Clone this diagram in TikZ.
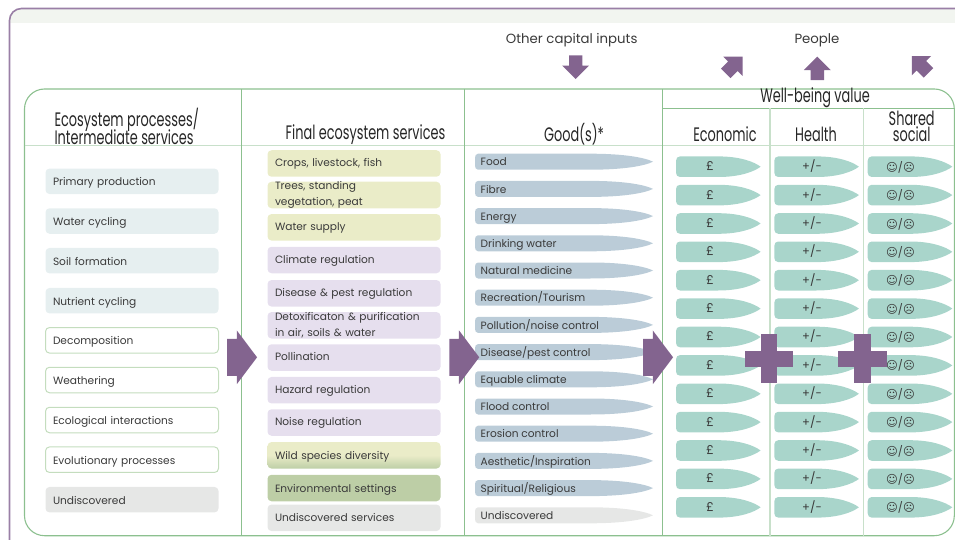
\documentclass[tikz,border=0pt]{standalone}
\usepackage{fontspec}
\setmainfont{Poppins}
\newfontfamily\headfont[FakeStretch=0.66]{Poppins}
\newfontfamily\symfont{DejaVu Sans}
\usetikzlibrary{shapes.arrows}

\definecolor{framecol}{HTML}{9A7FA6}
\definecolor{bandcol}{HTML}{F2F5F0}
\definecolor{tablecol}{HTML}{8CC08F}
\definecolor{rulecol}{HTML}{C8E0CA}
\definecolor{inkcol}{HTML}{3A3A3A}
\definecolor{procblue}{HTML}{E6EFF0}
\definecolor{procline}{HTML}{C4DDBE}
\definecolor{undgrey}{HTML}{E6E7E6}
\definecolor{servyellow}{HTML}{EAECC8}
\definecolor{servpurple}{HTML}{E6DFEE}
\definecolor{servgreen}{HTML}{BDCEA6}
\definecolor{goodblue}{HTML}{BBCCD8}
\definecolor{valuegreen}{HTML}{A9D5CB}
\definecolor{arrowcol}{HTML}{83648F}

\newcommand{\tightlines}{\lineskiplimit -10pt\relax}

\tikzset{
  headtext/.style={text=black!85,inner sep=0pt,align=left,font=\headfont\fontsize{19.5}{18}\selectfont\tightlines},
  toptext/.style={text=inkcol,inner sep=0pt,font=\fontsize{13.3}{14}\selectfont},
  boxtext/.style={text=inkcol,rounded corners=4pt,minimum height=25.5pt,inner sep=0pt,inner xsep=7.5pt,
    text width=158pt,align=left,font=\fontsize{10.6}{15.3}\selectfont},
  leftbox/.style={boxtext,text height=10.8pt,text depth=2pt},
  procbox/.style={leftbox,fill=procblue},
  openbox/.style={leftbox,draw=procline,line width=1pt,fill=white},
  undbox/.style={leftbox,fill=undgrey},
  servbox/.style={boxtext,minimum height=26.5pt,text height=8.8pt,text depth=2pt},
  twoline/.style={text height=,text depth=},
  lowtext/.style={text height=11pt},
  tagtext/.style={text=inkcol,inner sep=0pt,font=\fontsize{10.6}{12}\selectfont},
  bigarrow/.style={single arrow,fill=arrowcol,inner sep=0pt,text width=0pt,text height=36.6pt,text depth=0pt,
    minimum height=30pt,single arrow head extend=8.4pt,single arrow tip angle=106,anchor=tip},
  smallarrow/.style={single arrow,fill=arrowcol,inner sep=0pt,text width=0pt,text height=13pt,text depth=0pt,
    minimum height=23.6pt,single arrow head extend=6.8pt,single arrow tip angle=90,anchor=tip},
}

\newcommand{\goodtag}[4][goodblue]{
  \fill[#1] (479,#3-8) -- (590,#3-8) .. controls (625,#3-8) and (645,#3-4) .. (653,#3)
    .. controls (645,#3+4) and (625,#3+8) .. (590,#3+8) -- (479,#3+8) -- (478,#3+8)
    .. controls (476,#3+8) and (475,#3+6) .. (475,#3+4) -- (475,#3-4)
    .. controls (475,#3-6) and (476,#3-8) .. (478,#3-8) -- cycle;
  \node[tagtext,anchor=base west] (#2) at (480.5,#3+4.2) {#4};
}
\newcommand{\valuetag}[2]{
  \fill[valuegreen] (#1+4,#2-10.3) -- (#1+42,#2-10.3) .. controls (#1+64,#2-10.3) and (#1+78,#2-5) .. (#1+84.6,#2)
    .. controls (#1+78,#2+5) and (#1+64,#2+10.3) .. (#1+42,#2+10.3) -- (#1+4,#2+10.3)
    .. controls (#1+1.5,#2+10.3) and (#1,#2+8.5) .. (#1,#2+6) -- (#1,#2-6)
    .. controls (#1,#2-8.5) and (#1+1.5,#2-10.3) .. (#1+4,#2-10.3) -- cycle;
}
\newcommand{\poundtag}[2]{\valuetag{676}{#2}\node[tagtext,font=\fontsize{12.5}{12}\selectfont] (#1) at (710,#2-0.5) {£};}
\newcommand{\signtag}[2]{\valuetag{774.3}{#2}\node[tagtext,font=\fontsize{11.5}{12}\selectfont] (#1) at (812,#2-0.5) {+/-};}
\newcommand{\feeltag}[2]{\valuetag{867.7}{#2}\node[tagtext] (#1) at (900.5,#2+0.5) {{\symfont\fontsize{11.3}{12}\selectfont ☺}/{\symfont\fontsize{11.3}{12}\selectfont ☹}};}

\begin{document}
\begin{tikzpicture}[x=1pt,y=-1pt]
  \useasboundingbox (0,0) rectangle (955,540);
  % outer frame
  \fill[bandcol,rounded corners=12pt] (9.5,60) -- (9.5,8.5) -- (990,8.5) -- (990,60);
  \fill[white] (9,23) rectangle (990,60);
  \draw[framecol,line width=1.6pt,rounded corners=12pt] (9.5,600) -- (9.5,8.5) -- (990,8.5);
  % table
  \draw[tablecol,line width=1.1pt,rounded corners=20pt] (24.5,89) rectangle (954.3,535.7);
  \draw[rulecol,line width=1pt] (24.5,145.5) -- (954.3,145.5);
  \draw[tablecol,line width=0.7pt] (241.5,89) -- (241.5,535.7);
  \draw[tablecol,line width=0.7pt] (464.5,89) -- (464.5,535.7);
  \draw[tablecol,line width=0.8pt] (662.3,89) -- (662.3,535.7);
  \draw[tablecol,line width=1pt] (662.3,108.5) -- (954.3,108.5);
  \draw[rulecol,line width=1.2pt] (770,108.5) -- (770,535.7);
  \draw[rulecol,line width=1.2pt] (863.7,108.5) -- (863.7,535.7);
  % headings
  \node[toptext] (capital) at (571.7,40.3) {Other capital inputs};
  \node[toptext] (people) at (817,40.3) {People};
  \node[headtext,anchor=west] (processes) at (54.3,126.5) {Ecosystem processes/\\Intermediate services};
  \node[headtext] (final) at (365.5,135) {Final ecosystem services};
  \node[headtext] (goods) at (574,134) {Good(s)*};
  \node[headtext] (wellbeing) at (815,98) {Well-being value};
  \node[headtext] (economic) at (725,134) {Economic};
  \node[headtext] (health) at (816,134) {Health};
  \node[headtext,align=center,font=\headfont\fontsize{19.5}{16}\selectfont\tightlines] (shared) at (911.7,126) {Shared\\social};
  % processes
  \node[procbox] (primary) at (132,181.3) {Primary production};
  \node[procbox] (water) at (132,221) {Water cycling};
  \node[procbox] (soil) at (132,260.7) {Soil formation};
  \node[procbox] (nutrient) at (132,300.7) {Nutrient cycling};
  \node[openbox] (decomp) at (132,340.3) {Decomposition};
  \node[openbox] (weather) at (132,380) {Weathering};
  \node[openbox] (ecolog) at (132,420) {Ecological interactions};
  \node[openbox] (evol) at (132,459.7) {Evolutionary processes};
  \node[undbox] (undproc) at (132,499.7) {Undiscovered};
  % services
  \node[servbox,fill=servyellow] (crops) at (354,163.5) {Crops, livestock, fish};
  \node[servbox,twoline,fill=servyellow] (trees) at (354,195) {Trees, standing\\vegetation, peat};
  \node[servbox,fill=servyellow] (supply) at (354,227.3) {Water supply};
  \node[servbox,fill=servpurple] (climate) at (354,260) {Climate regulation};
  \node[servbox,fill=servpurple] (disease) at (354,293.3) {Disease \& pest regulation};
  \node[servbox,twoline,fill=servpurple] (detox) at (354,325.3) {Detoxificaton \& purification\\in air, soils \& water};
  \node[servbox,fill=servpurple] (pollin) at (354,357.5) {Pollination};
  \node[servbox,fill=servpurple] (hazard) at (354,390.2) {Hazard regulation};
  \node[servbox,fill=servpurple] (noise) at (354,422.5) {Noise regulation};
  \node[servbox,lowtext,top color=servyellow,bottom color=servgreen,middle color=servyellow] (wild) at (354,455.3) {Wild species diversity};
  \node[servbox,lowtext,fill=servgreen] (setting) at (354,488) {Environmental settings};
  \node[servbox,fill=undgrey] (undserv) at (354,517.8) {Undiscovered services};
  % goods
  \goodtag{food}{161.7}{Food}
  \goodtag{fibre}{188.9}{Fibre}
  \goodtag{energy}{216.1}{Energy}
  \goodtag{drinking}{243.3}{Drinking water}
  \goodtag{medicine}{270.5}{Natural medicine}
  \goodtag{tourism}{297.7}{Recreation/Tourism}
  \goodtag{pollution}{324.9}{Pollution/noise control}
  \goodtag{pest}{352.1}{Disease/pest control}
  \goodtag{equable}{379.3}{Equable climate}
  \goodtag{flood}{406.5}{Flood control}
  \goodtag{erosion}{433.7}{Erosion control}
  \goodtag{aesthetic}{460.9}{Aesthetic/Inspiration}
  \goodtag{spiritual}{488.1}{Spiritual/Religious}
  \goodtag[undgrey]{undgood}{515.3}{Undiscovered}
  % values
  \poundtag{econa}{166.7}
  \poundtag{econb}{195.1}
  \poundtag{econc}{223.5}
  \poundtag{econd}{251.8}
  \poundtag{econe}{280.2}
  \poundtag{econf}{308.6}
  \poundtag{econg}{337}
  \poundtag{econh}{365.4}
  \poundtag{econi}{393.8}
  \poundtag{econj}{422.1}
  \poundtag{econk}{450.5}
  \poundtag{econl}{478.9}
  \poundtag{econm}{507.3}
  \signtag{healtha}{166.7}
  \signtag{healthb}{195.1}
  \signtag{healthc}{223.5}
  \signtag{healthd}{251.8}
  \signtag{healthe}{280.2}
  \signtag{healthf}{308.6}
  \signtag{healthg}{337}
  \signtag{healthh}{365.4}
  \signtag{healthi}{393.8}
  \signtag{healthj}{422.1}
  \signtag{healthk}{450.5}
  \signtag{healthl}{478.9}
  \signtag{healthm}{507.3}
  \feeltag{socala}{166.7}
  \feeltag{socalb}{195.1}
  \feeltag{socalc}{223.5}
  \feeltag{socald}{251.8}
  \feeltag{socale}{280.2}
  \feeltag{socalf}{308.6}
  \feeltag{socalg}{337}
  \feeltag{socalh}{365.4}
  \feeltag{socali}{393.8}
  \feeltag{socalj}{422.1}
  \feeltag{socalk}{450.5}
  \feeltag{socall}{478.9}
  \feeltag{socalm}{507.3}
  % arrows
  \node[smallarrow,rotate=-90] (down) at (575.7,79.3) {};
  \node[smallarrow,rotate=45] (upright) at (742.7,56.5) {};
  \node[smallarrow,rotate=90] (up) at (817.3,56.3) {};
  \node[smallarrow,rotate=135] (upleft) at (911.7,56) {};
  \node[bigarrow] (flowa) at (257.3,357.3) {};
  \node[bigarrow] (flowb) at (479.5,357.3) {};
  \node[bigarrow] (flowc) at (673.3,357.3) {};
  % plus signs
  \fill[arrowcol] (745,350.5) rectangle (793.3,366.8);
  \fill[arrowcol] (761.1,334.3) rectangle (777.4,383);
  \fill[arrowcol] (838,350.5) rectangle (887,366.8);
  \fill[arrowcol] (854.3,334.3) rectangle (870.6,383);
\end{tikzpicture}
\end{document}
